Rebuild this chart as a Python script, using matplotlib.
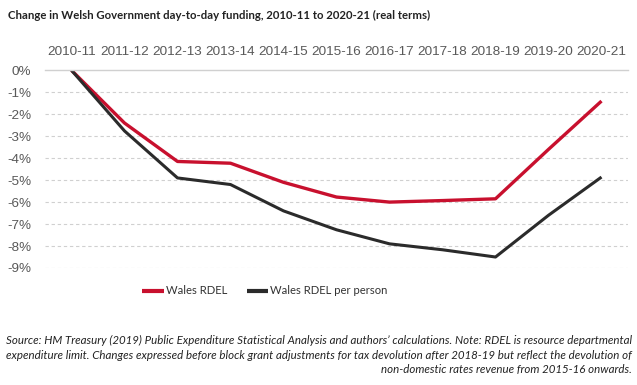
import matplotlib
matplotlib.use('Agg')
import matplotlib.pyplot as plt
from matplotlib.ticker import FuncFormatter

years = ['2010-11', '2011-12', '2012-13', '2013-14', '2014-15', '2015-16',
         '2016-17', '2017-18', '2018-19', '2019-20', '2020-21']
wales_rdel = [0.0, -2.4, -4.15, -4.23, -5.1, -5.77, -6.0, -5.93, -5.85, -3.6, -1.4]
wales_rdel_pp = [0.0, -2.76, -4.9, -5.2, -6.4, -7.26, -7.9, -8.17, -8.5, -6.6, -4.86]

RED = '#c8102e'
DARK = '#2b2b2b'
GREY = '#595959'

fig = plt.figure(figsize=(6.37, 3.85), dpi=100)
ax = fig.add_axes([45 / 637, 1 - 268 / 385, (628 - 45) / 637, (268 - 70.3) / 385])

x = range(len(years))
ax.plot(x, wales_rdel, color=RED, linewidth=2.4, label='Wales RDEL', solid_capstyle='butt')
ax.plot(x, wales_rdel_pp, color=DARK, linewidth=2.2, label='Wales RDEL per person', solid_capstyle='butt')

ax.set_xlim(-0.5, len(years) - 0.5)
ax.set_ylim(-9, 0)
ax.set_yticks(range(-9, 1))
ax.yaxis.set_major_formatter(FuncFormatter(lambda v, p: f'{int(v)}%'))
ax.set_xticks(list(x))
ax.set_xticklabels(years)
ax.xaxis.tick_top()
ax.tick_params(axis='both', length=0, colors=GREY, labelsize=9.7)
ax.tick_params(axis='x', pad=9)
ax.tick_params(axis='y', pad=10)
for lab in ax.get_xticklabels() + ax.get_yticklabels():
    lab.set_family('Liberation Sans')

for v in range(-9, 0):
    ax.axhline(v, color='#d0d0d0', linewidth=0.8, linestyle=(0, (3, 2.5)), zorder=0)
for s in ['left', 'right', 'bottom']:
    ax.spines[s].set_visible(False)
ax.spines['top'].set_color('#d0d0d0')
ax.spines['top'].set_linewidth(1)

leg = fig.legend(loc='center', bbox_to_anchor=(265 / 637, 1 - 291 / 385), ncol=2,
                 frameon=False, handlelength=1.9, handletextpad=0.2,
                 columnspacing=1.7, prop={'family': 'Lato', 'size': 8.1})
for t in leg.get_texts():
    t.set_color('#333333')
for h in leg.get_lines():
    h.set_linewidth(3)

fig.text(8 / 637, 1 - 15 / 385,
         'Change in Welsh Government day-to-day funding, 2010-11 to 2020-21 (real terms)',
         fontsize=8.2, fontweight='bold', family='Lato', color='#222222',
         ha='left', va='center')

note = ('Source: HM Treasury (2019) Public Expenditure Statistical Analysis and authors\u2019 calculations. '
        'Note: RDEL is resource departmental\n'
        'expenditure limit. Changes expressed before block grant adjustments for tax devolution '
        'after 2018-19 but reflect the devolution of\n'
        'non-domestic rates revenue from 2015-16 onwards.')
fig.text(632 / 637, 1 - 355 / 385, note, fontsize=8.3, style='italic', family='Lato',
         color='#222222', ha='right', va='center', multialignment='right', linespacing=1.4)

fig.savefig('out.png', dpi=100)
